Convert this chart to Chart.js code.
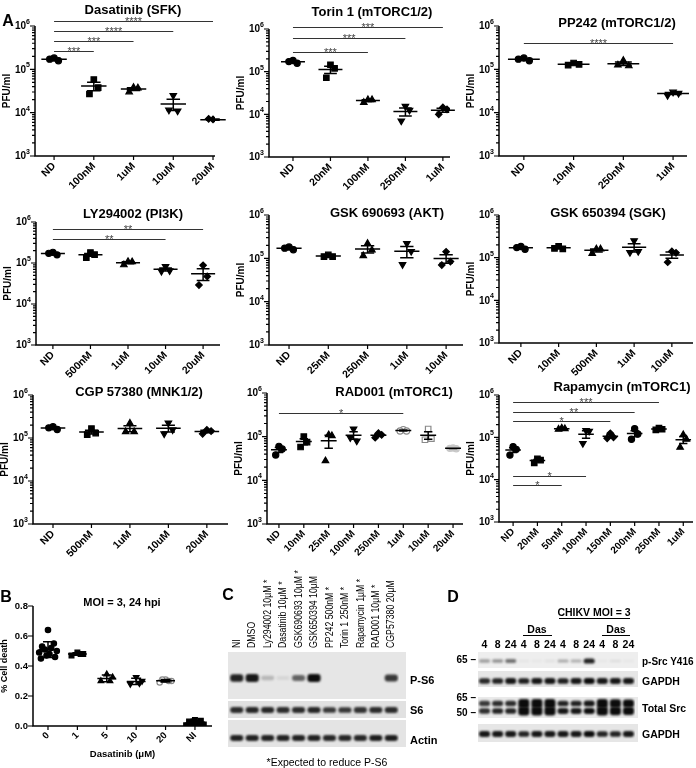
<!DOCTYPE html>
<html><head><meta charset="utf-8">
<script src="https://cdn.jsdelivr.net/npm/chart.js@4.4.1/dist/chart.umd.min.js"></script>
<style>
html,body{margin:0;padding:0;background:#fff;}
body{position:relative;width:696px;height:768px;overflow:hidden;}
canvas{position:absolute;}
</style></head><body>
<script>
// ---------------- DATA ----------------
const ndCtrlA = [1.82e5, 1.58e5, 1.72e5];
const ndCtrlB = [6.0e4, 5.2e4, 3.8e4];

const dasatinibCats = ['ND','100nM','1uM','10uM','20uM'];
const dasatinibPFU = [ndCtrlA, [5.8e4,3.8e4,2.7e4], [3.8e4,3.7e4,3.0e4], [2.5e4,1.1e4,1.15e4], [7.0e3,6.5e3,7.2e3]];
const dasatinibSig = [['****',4,1.3e6],['****',3,7.7e5],['***',2,4.5e5],['***',1,2.66e5]];

const torinCats = ['ND','20nM','100nM','250nM','1uM'];
const torinPFU = [ndCtrlA,[1.45e5,1.2e5,7.2e4],[2.2e4,2.2e4,1.9e4],[1.55e4,1.25e4,7.0e3],[1.45e4,1.3e4,1.0e4]];
const torinSig = [['***',4,1.12e6],['***',3,6.15e5],['***',2,2.88e5]];

const pp242Cats = ['ND','10nM','250nM','1uM'];
const pp242PFU = [ndCtrlA,[1.4e5,1.3e5,1.25e5],[1.6e5,1.2e5,1.25e5],[3.0e4,2.8e4,2.5e4]];
const pp242Sig = [['****',3,4.1e5]];

const lyCats = ['ND','500nM','1uM','10uM','20uM'];
const lyPFU = [ndCtrlA,[1.8e5,1.6e5,1.35e5],[1.08e5,1.07e5,9.0e4],[8.2e4,6.5e4,6.3e4],[8.8e4,4.7e4,2.9e4]];
const lySig = [['**',4,6.9e5],['**',3,3.8e5]];

const gsk690Cats = ['ND','25nM','250nM','1uM','10uM'];
const gsk690PFU = [ndCtrlA,[1.2e5,1.1e5,1.1e5],[2.2e5,1.55e5,1.15e5],[2.2e5,1.45e5,7.2e4],[1.42e5,8.4e4,7.0e4]];

const gsk650Cats = ['ND','10nM','500nM','1uM','10uM'];
const gsk650PFU = [ndCtrlA,[1.85e5,1.6e5,1.65e5],[1.6e5,1.6e5,1.25e5],[2.5e5,1.4e5,1.33e5],[1.4e5,1.3e5,7.8e4]];

const cgpCats = ['ND','500nM','1uM','10uM','20uM'];
const cgpPFU = [ndCtrlA,[1.65e5,1.3e5,1.2e5],[2.2e5,1.4e5,1.4e5],[2.25e5,1.55e5,1.25e5],[1.55e5,1.45e5,1.25e5]];

const radCats = ['ND','10nM','25nM','100nM','250nM','1uM','10uM','20uM'];
const radPFU = [ndCtrlB,[1.0e5,7.5e4,5.8e4],[1.1e5,1.05e5,2.8e4],[1.5e5,8.0e4,9.5e4],[1.2e5,1.1e5,9.5e4],[1.45e5,1.35e5,1.35e5],[1.5e5,9.0e4,8.5e4],[5.5e4,5.3e4,5.4e4]];
const radSig = [['*',5,3.4e5]];

const rapaCats = ['ND','20nM','50nM','100nM','150nM','200nM','250nM','1uM'];
const rapaPFU = [ndCtrlB,[3.1e4,2.9e4,2.5e4],[1.65e5,1.6e5,1.55e5],[1.45e5,1.4e5,7.2e4],[1.25e5,1.0e5,9.5e4],[1.6e5,1.2e5,9.0e4],[1.65e5,1.55e5,1.5e5],[1.15e5,9.0e4,5.8e4]];
const rapaSig = [['***',6,6.9e5],['**',5,4.0e5],['*',4,2.4e5],['*',3,1.2e4],['*',2,7.4e3]];

const cellDeathCats = ['0','1','5','10','20','NI'];
const cellDeath = [[0.64,0.55,0.53,0.52,0.51,0.50,0.49,0.48,0.47,0.46,0.45],[0.49,0.48,0.47,0.48],[0.345,0.325,0.30,0.30],[0.325,0.30,0.28,0.285],[0.31,0.30,0.29,0.30,0.31],[0.04,0.035,0.03,0.02,0.015,0.01,0.005,0.02,0.03,0.01]];
const cellDeathTicks = [0,0.2,0.4,0.6,0.8];

const laneNamesC = ['NI','DMSO','Ly294002 10μM *','Dasatinib 10μM *','GSK690693 10μM *','GSK650394 10μM','PP242 500nM *','Torin 1 250nM *','Rapamycin 1μM *','RAD001 10μM *','CGP57380 20μM'];
const pS6Band  = [0.9,0.95,0.22,0.08,0.6,1.0,0,0,0,0,0.8];
const s6Band   = [0.85,0.88,0.88,0.85,0.85,0.88,0.8,0.8,0.82,0.85,0.85];
const actinBand= [0.9,0.9,0.9,0.9,0.9,0.9,0.88,0.88,0.88,0.92,0.92];

const laneHoursD = ['4','8','24','4','8','24','4','8','24','4','8','24'];
const pSrcBand   = [0.35,0.4,0.55,0.04,0.03,0.06,0.3,0.28,0.9,0.03,0.07,0.03];
const gapdh1Band = [0.88,0.9,0.95,0.92,0.95,0.95,0.92,0.95,1,0.95,0.95,0.95];
const srcUpperBand = [0.8,0.85,0.85,1.5,1.5,1.5,0.9,0.9,0.95,1.5,1.4,1.35];
const srcLowerBand = [0.85,0.9,0.9,1.5,1.5,1.5,0.95,0.95,1.0,1.5,1.4,1.35];
const gapdh2Band = [0.95,0.95,0.95,0.9,0.95,0.95,0.95,0.95,1,0.9,0.9,0.95];

// ---------------- SETUP ----------------
const FONT = "'Liberation Sans', Arial, Helvetica, sans-serif";
Chart.defaults.font.family = FONT;
Chart.defaults.color = '#000';
Chart.defaults.animation = false;

const MARK = {
  circle:{s:'circle',bg:'#000',bd:'#000',k:1},
  square:{s:'rect',bg:'#000',bd:'#000',k:1.25},
  tri:{s:'triangle',bg:'#000',bd:'#000',k:1.2},
  triDown:{s:'triangle',bg:'#000',bd:'#000',rot:180,k:1.2},
  diamond:{s:'rectRot',bg:'#000',bd:'#000',k:1.05},
  openCircle:{s:'circle',bg:'#fff',bd:'#8a8a8a',k:1},
  openSquare:{s:'rect',bg:'#fff',bd:'#8a8a8a',k:1.25},
  lightDot:{s:'circle',bg:'#c8c8c8',bd:'#c8c8c8',k:1}
};
const STD = ['circle','square','tri','triDown','diamond'];
const JIT = [0, 1, -1, 0.55, -0.55, 1.5, -1.5, 0.25, -0.25, 1.2, -1.2];

function makeCanvas(area, m){
  const cv = document.createElement('canvas');
  const W = area.r-area.l+m.l+m.r, H = area.b-area.t+m.t+m.b;
  cv.width = W; cv.height = H;
  cv.style.left = (area.l-m.l)+'px'; cv.style.top = (area.t-m.t)+'px';
  cv.style.width = W+'px'; cv.style.height = H+'px';
  document.body.appendChild(cv);
  return cv;
}

function decoPlugin(c){
  return {
    id:'deco',
    afterDatasetsUpdate(chart){
      const x = chart.scales.x;
      const sp = x.getPixelForValue(1)-x.getPixelForValue(0);
      chart.data.datasets.forEach((ds,di)=>{
        const meta = chart.getDatasetMeta(di);
        meta.data.forEach((el,j)=>{ el.x += JIT[j%JIT.length]*sp*(c.jit||0.11); });
      });
    },
    afterDatasetsDraw(chart){
      const {ctx, scales:{x,y}} = chart;
      const sp = x.getPixelForValue(1)-x.getPixelForValue(0);
      ctx.save();
      ctx.strokeStyle = '#000'; ctx.lineWidth = 1.5;
      c.vals.forEach((arr,i)=>{
        const n = arr.length, mean = arr.reduce((a,b)=>a+b,0)/n;
        const sd = Math.sqrt(arr.reduce((a,b)=>a+(b-mean)*(b-mean),0)/(n-1));
        const err = c.err==='sd' ? sd : sd/Math.sqrt(n);
        const cx = x.getPixelForValue(i);
        const ym = y.getPixelForValue(mean), yt = y.getPixelForValue(mean+err), yb = y.getPixelForValue(Math.max(mean-err, 1e-9));
        const hw = sp*0.32, cw = sp*0.17;
        ctx.beginPath();
        ctx.moveTo(cx-hw,ym); ctx.lineTo(cx+hw,ym);
        ctx.moveTo(cx,yt); ctx.lineTo(cx,yb);
        ctx.moveTo(cx-cw,yt); ctx.lineTo(cx+cw,yt);
        ctx.moveTo(cx-cw,yb); ctx.lineTo(cx+cw,yb);
        ctx.stroke();
      });
      (c.sig||[]).forEach(([lab,to,lv])=>{
        const x1 = x.getPixelForValue(0), x2 = x.getPixelForValue(to), yy = Math.round(y.getPixelForValue(lv))+0.5;
        ctx.strokeStyle = '#333'; ctx.lineWidth = 1;
        ctx.beginPath(); ctx.moveTo(x1,yy); ctx.lineTo(x2,yy); ctx.stroke();
        ctx.fillStyle = '#444'; ctx.font = `11px ${FONT}`; ctx.textAlign='center'; ctx.textBaseline='alphabetic';
        ctx.fillText(lab,(x1+x2)/2,yy+3);
      });
      ctx.restore();
    },
    afterDraw(chart){
      const {ctx, chartArea:a, scales:{x,y}} = chart;
      ctx.save();
      ctx.strokeStyle = '#000'; ctx.lineWidth = 1.5;
      ctx.beginPath();
      ctx.moveTo(a.left, a.top); ctx.lineTo(a.left, a.bottom); ctx.lineTo(a.right, a.bottom);
      ctx.stroke();
      ctx.lineWidth = 1.2;
      ctx.beginPath();
      c.cats.forEach((_,i)=>{ const px = x.getPixelForValue(i); ctx.moveTo(px,a.bottom); ctx.lineTo(px,a.bottom+4); });
      if (c.log !== false){
        for (let e=3;e<=6;e++){
          const py = y.getPixelForValue(Math.pow(10,e));
          ctx.moveTo(a.left-5,py); ctx.lineTo(a.left,py);
          if (e<6) for (let k=2;k<=9;k++){ const pm = y.getPixelForValue(k*Math.pow(10,e)); ctx.moveTo(a.left-3,pm); ctx.lineTo(a.left,pm); }
        }
      } else {
        c.yTicks.forEach(v=>{ const py = y.getPixelForValue(v); ctx.moveTo(a.left-5,py); ctx.lineTo(a.left,py); });
      }
      ctx.stroke();
      if (c.log !== false){
        // power-of-ten tick labels with raised exponent, placed through the y scale
        y.ticks.forEach(t=>{
          const py = y.getPixelForValue(t.value);
          const e = String(Math.round(Math.log10(t.value)));
          ctx.fillStyle = '#000';
          ctx.font = `bold 7px ${FONT}`; ctx.textAlign='right'; ctx.textBaseline='middle';
          const ew = ctx.measureText(e).width;
          ctx.fillText(e, a.left-5, py-4);
          ctx.font = `bold 10px ${FONT}`;
          ctx.fillText('10', a.left-5-ew, py+0.5);
        });
      }
      ctx.restore();
    }
  };
}

function dotPlot(c){
  const m = {l:35, t:24, r:14, b:c.mb||46};
  const cv = makeCanvas(c.area, m);
  const log = c.log !== false;
  const R = c.r || 3.1;
  const datasets = c.vals.map((arr,i)=>{
    const mk = MARK[c.marks[i]];
    return {data: arr.map(v=>({x:i,y:v})), pointStyle:mk.s, pointRotation:mk.rot||0, pointRadius:R*mk.k,
      pointBackgroundColor:mk.bg, pointBorderColor:mk.bd, pointBorderWidth:1.2, showLine:false};
  });
  const yScale = log ? {
      type:'logarithmic', min:1e3, max:1e6,
      afterBuildTicks:s=>{ s.ticks=[1e3,1e4,1e5,1e6].map(v=>({value:v})); },
      ticks:{display:false}
    } : {
      type:'linear', min:c.yMin, max:c.yMax,
      afterBuildTicks:s=>{ s.ticks=c.yTicks.map(v=>({value:v})); },
      ticks:{callback:v=>Number(v).toFixed(1)}
    };
  Object.assign(yScale.ticks, {font:{size:c.tSize||10, weight:'bold'}, padding:5, autoSkip:false});
  Object.assign(yScale, {
    afterFit:s=>{ s.width=m.l; },
    grid:{display:false, drawTicks:false}, border:{display:false},
    title:{display:true, text:c.yTitle||'PFU/ml', font:{size:c.ytSize||10, weight:'bold'}, padding:{top:1,bottom:1}}
  });
  new Chart(cv, {
    type:'scatter',
    data:{datasets},
    options:{
      responsive:false, devicePixelRatio:1, animation:false,
      layout:{padding:{left:0, top:m.t, right:m.r, bottom:0}},
      scales:{
        x:{type:'linear', min:c.xMin, max:c.xMax,
           afterBuildTicks:s=>{ s.ticks=c.cats.map((_,i)=>({value:i})); },
           afterFit:s=>{ s.height=m.b; },
           grid:{display:false, drawTicks:false}, border:{display:false},
           ticks:{autoSkip:false, minRotation:45, maxRotation:45, padding:4, font:{size:c.xSize||10.5, weight:'bold'}, callback:(v,i)=>c.cats[i]},
           title: c.xTitle ? {display:true, text:c.xTitle, font:{size:9.5, weight:'bold'}, padding:{top:0,bottom:2}} : {display:false}
        },
        y:yScale
      },
      plugins:{legend:{display:false}, tooltip:{enabled:false}}
    },
    plugins:[decoPlugin(c)]
  });
}

function blotPlugin(c){
  return {
    id:'blot',
    beforeDatasetsDraw(chart){
      const {ctx, chartArea:a} = chart;
      const p = c.pad || [0,0];
      ctx.save(); ctx.fillStyle = c.bg; ctx.fillRect(a.left-p[0], a.top, a.right-a.left+p[0]+p[1], a.bottom-a.top); ctx.restore();
      ctx.save(); ctx.filter = 'blur(0.9px)';
    },
    afterDatasetsDraw(chart){ chart.ctx.restore(); },
    afterDraw(chart){
      if (!c.labels) return;
      const {ctx, chartArea:a, scales:{x}} = chart;
      ctx.save(); ctx.fillStyle = '#000';
      c.labels.forEach((s,i)=>{
        const px = x.getPixelForValue(i);
        if (c.labelMode==='vertical'){
          ctx.save(); ctx.translate(px, a.top-4); ctx.rotate(-Math.PI/2); ctx.scale(0.76,1);
          ctx.font = `11.5px ${FONT}`; ctx.textAlign='left'; ctx.textBaseline='middle';
          ctx.fillText(s,0,0); ctx.restore();
        } else {
          ctx.font = `bold 10.5px ${FONT}`; ctx.textAlign='center'; ctx.textBaseline='middle';
          ctx.fillText(s, px, a.top-7);
        }
      });
      ctx.restore();
    }
  };
}

function blotChart(c){
  const m = {l:10, t:c.mt||3, r:10, b:3};
  const cv = makeCanvas(c.area, m);
  const h = c.area.b - c.area.t;
  const lanes = c.rows[0].vals.map((_,i)=>String(i));
  const datasets = c.rows.map(row=>({
    data: row.vals.map(v=>{ const t = row.th*(0.4+0.6*Math.min(v,1))*Math.max(v,1); return [row.c-t/2, row.c+t/2]; }),
    backgroundColor: row.vals.map(v=>`rgba(12,12,12,${Math.min(1,v)})`),
    borderRadius: 3, borderSkipped:false, grouped:false,
    barPercentage: c.bw||0.85, categoryPercentage:1
  }));
  new Chart(cv, {
    type:'bar',
    data:{labels:lanes, datasets},
    options:{
      responsive:false, devicePixelRatio:1, animation:false,
      layout:{padding:{left:m.l, top:m.t, right:m.r, bottom:m.b}},
      scales:{ x:{type:'category', display:false, offset:true}, y:{min:0, max:h, reverse:true, display:false} },
      plugins:{legend:{display:false}, tooltip:{enabled:false}}
    },
    plugins:[blotPlugin(c)]
  });
}

function txt(s, x, y, o){
  o = o||{};
  const d = document.createElement('div'); d.textContent = s;
  const size = o.size||11, w = o.w||'bold', al = o.al||'c';
  d.style.cssText = `position:absolute;left:${x}px;top:${y}px;font-weight:${w};font-size:${size}px;font-family:${FONT};line-height:1;white-space:nowrap;color:#000;transform:translate(${al==='c'?'-50%':al==='r'?'-100%':'0'},-50%);`;
  document.body.appendChild(d);
}
function hline(x1,x2,y){
  const d = document.createElement('div');
  d.style.cssText = `position:absolute;left:${x1}px;top:${y}px;width:${x2-x1}px;height:0;border-top:1.3px solid #000;`;
  document.body.appendChild(d);
}

// ---------------- PANEL A ----------------
dotPlot({area:{l:35,r:215,t:26,b:156}, xMin:-0.48, xMax:4.05, cats:dasatinibCats, vals:dasatinibPFU, marks:STD, sig:dasatinibSig});
dotPlot({area:{l:269,r:450,t:29,b:157}, xMin:-0.64, xMax:4.19, cats:torinCats, vals:torinPFU, marks:STD, sig:torinSig});
dotPlot({area:{l:499,r:687,t:26,b:156}, xMin:-0.5, xMax:3.28, cats:pp242Cats, vals:pp242PFU, marks:STD, sig:pp242Sig});
dotPlot({area:{l:36,r:220,t:222,b:345}, xMin:-0.45, xMax:4.45, cats:lyCats, vals:lyPFU, marks:STD, sig:lySig});
dotPlot({area:{l:269,r:463,t:215,b:345}, xMin:-0.51, xMax:4.43, cats:gsk690Cats, vals:gsk690PFU, marks:STD});
dotPlot({area:{l:499,r:693,t:215,b:343}, xMin:-0.58, xMax:4.56, cats:gsk650Cats, vals:gsk650PFU, marks:STD});
dotPlot({area:{l:33,r:228,t:395,b:524}, xMin:-0.52, xMax:4.55, cats:cgpCats, vals:cgpPFU, marks:STD});
dotPlot({area:{l:267,r:463,t:393,b:524}, xMin:-0.48, xMax:7.4, cats:radCats, vals:radPFU, marks:['circle','square','tri','triDown','diamond','openCircle','openSquare','lightDot'], sig:radSig, xSize:10, jit:0.13});
dotPlot({area:{l:499,r:693,t:395,b:522}, xMin:-0.58, xMax:7.4, cats:rapaCats, vals:rapaPFU, marks:['circle','square','tri','triDown','diamond','circle','square','tri'], sig:rapaSig, xSize:10, jit:0.13});

// ---------------- PANEL B ----------------
dotPlot({area:{l:33,r:212,t:606,b:726}, xMin:-0.51, xMax:5.58, cats:cellDeathCats, vals:cellDeath,
  marks:['circle','square','tri','triDown','openCircle','square'], log:false, yMin:0, yMax:0.8, yTicks:cellDeathTicks,
  err:'sd', yTitle:'% Cell death', ytSize:9, tSize:9.5, xSize:9.5, xTitle:'Dasatinib (μM)', mb:36, r:2.7, jit:0.2});

// ---------------- PANEL C ----------------
blotChart({area:{l:229,r:399,t:652,b:699}, mt:92, bg:'#e6e6e6', pad:[1,7], rows:[{vals:pS6Band, c:26, th:8}], labels:laneNamesC, labelMode:'vertical'});
blotChart({area:{l:229,r:399,t:701,b:718}, bg:'#e1e1e1', pad:[1,7], rows:[{vals:s6Band, c:9, th:6.5}]});
blotChart({area:{l:229,r:399,t:720,b:747}, bg:'#e4e4e4', pad:[1,7], rows:[{vals:actinBand, c:18, th:6.5}]});

// ---------------- PANEL D ----------------
blotChart({area:{l:478,r:635,t:652,b:668}, mt:16, bg:'#eeeeee', pad:[0,3], rows:[{vals:pSrcBand, c:9, th:5.5}], labels:laneHoursD, labelMode:'numbers'});
blotChart({area:{l:478,r:635,t:671,b:687}, bg:'#e6e6e6', pad:[0,3], rows:[{vals:gapdh1Band, c:10, th:6}]});
blotChart({area:{l:478,r:635,t:697,b:718}, bg:'#eaeaea', pad:[0,3], rows:[{vals:srcUpperBand, c:6.5, th:6},{vals:srcLowerBand, c:14, th:6}]});
blotChart({area:{l:478,r:635,t:724,b:742}, bg:'#e6e6e6', pad:[0,3], rows:[{vals:gapdh2Band, c:10, th:6}]});

// ---------------- TEXT ----------------
[['Dasatinib (SFK)',133,9],['Torin 1 (mTORC1/2)',372,11],['PP242 (mTORC1/2)',617,22],
 ['LY294002 (PI3K)',133,213],['GSK 690693 (AKT)',387,212],['GSK 650394 (SGK)',608,212],
 ['CGP 57380 (MNK1/2)',139,391],['RAD001 (mTORC1)',394,391],['Rapamycin (mTORC1)',622,386]]
 .forEach(([s,x,y])=>txt(s,x,y,{size:13}));
txt('A',8,21,{size:16}); txt('B',6,597,{size:16}); txt('C',228,595,{size:16}); txt('D',453,597,{size:16});
txt('MOI = 3, 24 hpi',122,602,{size:11});
txt('P-S6',410,680,{size:11,al:'l'}); txt('S6',410,710,{size:11,al:'l'}); txt('Actin',410,740,{size:11,al:'l'});
txt('*Expected to reduce P-S6',327,762,{size:10.5,w:'normal'});
txt('CHIKV MOI = 3',594,612,{size:10.5}); hline(559,630,618);
txt('Das',537,629,{size:10.5}); hline(523,552,635);
txt('Das',616,629,{size:10.5}); hline(602,630,635);
txt('p-Src Y416',642,662,{size:10,al:'l'}); txt('GAPDH',642,681,{size:10.5,al:'l'});
txt('Total Src',642,708,{size:10.5,al:'l'}); txt('GAPDH',642,734,{size:10.5,al:'l'});
txt('65 –',476,660,{size:10,al:'r'}); txt('65 –',476,698,{size:10,al:'r'}); txt('50 –',476,713,{size:10,al:'r'});
</script>
</body></html>
